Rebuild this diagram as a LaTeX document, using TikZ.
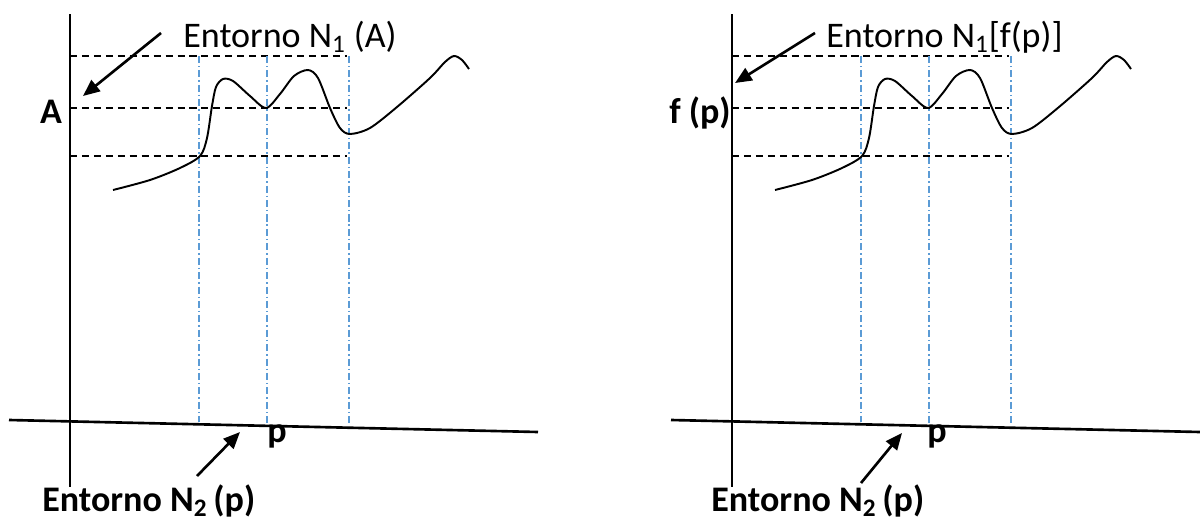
\documentclass[tikz,border=0pt]{standalone}
\usepackage{fontspec}
\setmainfont{Carlito}
\usetikzlibrary{arrows.meta}
\definecolor{guide-blue}{HTML}{5B9BD5}
\definecolor{ink}{HTML}{000000}

\begin{document}
\begin{tikzpicture}[x=0.02cm, y=-0.02cm,
    every node/.style={inner sep=0pt, text=ink, font=\fontsize{20.5}{24}\selectfont},
    boldlabel/.style={font=\fontsize{20.5}{24}\selectfont\bfseries},
    axisline/.style={line width=1.5pt, ink},
    levelline/.style={line width=1pt, ink, dash pattern=on 4pt off 2.8pt},
    guideline/.style={line width=0.9pt, guide-blue, dash pattern=on 4pt off 1.7pt on 0.8pt off 1.7pt},
    pointer/.style={line width=1.5pt, ink, -{Triangle[length=9.5pt,width=8pt]}}]
    % Pixel grid: (x, y) with y going down, 1200 x 524
    %   vertical axis x=70, horizontal axis (9,420)--(538,432)
    %   level lines y=56, 108, 156; guides x=199, 267, 349
    %   right panel is the left one shifted by 662
    \useasboundingbox (0,0) rectangle (1200,524);
    \foreach \dx in {0,662} {
      \begin{scope}[shift={(\dx,0)}]
        \draw[axisline] (70,14) -- (70,487);
        \draw[axisline] (9,420) -- (538,432);
        \draw[levelline] (70,56) -- (347,56);
        \draw[levelline] (70,108) -- (347,108);
        \draw[levelline] (70,156) -- (347,156);
        \draw[guideline] (199,56) -- (199,422);
        \draw[guideline] (267,56) -- (267,423);
        \draw[guideline] (349,56) -- (349,425);
        \draw[line width=1.1pt, ink] plot[smooth, tension=0.5] coordinates {
          (113,190) (150,180) (180,168) (200,156) (207,138) (212,106)
          (216,87) (223,79) (233,81) (250,96) (266,108) (280,94)
          (294,76) (308,70) (318,78) (330,108) (340,128) (350,134)
          (370,128) (397,107) (430,78) (445,62) (454,56) (462,60) (469,69)};
      \end{scope}
    }
    % left panel labels
    \node[anchor=base west] (nbhdA) at (183,47) {Entorno N\textsubscript{1} (A)};
    \node[boldlabel, anchor=base] (valA) at (51,123) {A};
    \node[boldlabel, anchor=base] (ptL) at (277,442) {p};
    \node[boldlabel, anchor=base west] (nbhdPL) at (42,511) {Entorno N\textsubscript{2}\,(p)};
    \coordinate (tailA) at (161,33);
    \coordinate (tipA) at (83,96);
    \coordinate (tailPL) at (197,476);
    \coordinate (tipPL) at (240,432);
    \draw[pointer] (tailA) -- (tipA);
    \draw[pointer] (tailPL) -- (tipPL);
    % right panel labels
    \node[anchor=base west] (nbhdF) at (826,47) {Entorno N\textsubscript{1}[f(p)]};
    \node[boldlabel, anchor=base east] (valF) at (731,123) {f (p)};
    \node[boldlabel, anchor=base] (ptR) at (937,442) {p};
    \node[boldlabel, anchor=base west] (nbhdPR) at (711,511) {Entorno N\textsubscript{2}\,(p)};
    \coordinate (tailF) at (815,33);
    \coordinate (tipF) at (735,83);
    \coordinate (tailPR) at (861,483);
    \coordinate (tipPR) at (902,433);
    \draw[pointer] (tailF) -- (tipF);
    \draw[pointer] (tailPR) -- (tipPR);
\end{tikzpicture}
\end{document}
